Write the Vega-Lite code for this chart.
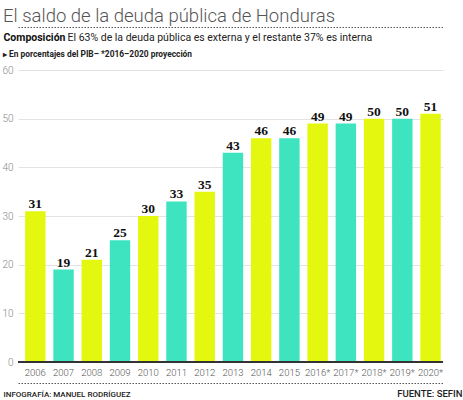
{
  "$schema": "https://vega.github.io/schema/vega-lite/v6.json",
  "width": 425,
  "height": 292,
  "autosize": {"type": "none"},
  "padding": {"left": 18, "top": 70, "right": 20, "bottom": 38},
  "background": "white",
  "config": {"view": {"stroke": null}},
  "title": {
    "text": "El saldo de la deuda pública de Honduras",
    "subtitle": "▸ En porcentajes del PIB– *2016–2020 proyección",
    "anchor": "start",
    "frame": "group",
    "dx": -15,
    "offset": -31,
    "font": "Roboto",
    "fontWeight": 300,
    "fontSize": 18.5,
    "color": "#555",
    "subtitleFont": "Roboto",
    "subtitleFontWeight": "bold",
    "subtitleFontSize": 8.4,
    "subtitleColor": "#222",
    "subtitlePadding": 24
  },
  "data": {
    "values": [
      {"year": "2006", "value": 31},
      {"year": "2007", "value": 19},
      {"year": "2008", "value": 21},
      {"year": "2009", "value": 25},
      {"year": "2010", "value": 30},
      {"year": "2011", "value": 33},
      {"year": "2012", "value": 35},
      {"year": "2013", "value": 43},
      {"year": "2014", "value": 46},
      {"year": "2015", "value": 46},
      {"year": "2016*", "value": 49},
      {"year": "2017*", "value": 49},
      {"year": "2018*", "value": 50},
      {"year": "2019*", "value": 50},
      {"year": "2020*", "value": 51}
    ]
  },
  "resolve": {
    "scale": {"y": "independent"},
    "axis": {"x": "independent", "y": "independent"}
  },
  "layer": [
    {
      "layer": [
        {
          "mark": {"type": "bar"},
          "encoding": {
            "x": {
              "field": "year",
              "type": "ordinal",
              "sort": null,
              "scale": {"paddingInner": 0.277, "paddingOuter": 0.166, "align": 0.76},
              "axis": {
                "orient": "bottom",
                "offset": 21,
                "domain": true,
                "domainColor": "#555",
                "domainWidth": 1,
                "domainDash": [1.5, 1.5],
                "ticks": false,
                "tickSize": 0,
                "grid": false,
                "labelPadding": -16,
                "labelAngle": 0,
                "labelOverlap": false,
                "labelFont": "Roboto",
                "labelFontWeight": 300,
                "labelFontSize": 9.5,
                "labelColor": "#555",
                "title": "INFOGRAFÍA: MANUEL RODRÍGUEZ",
                "titleX": -15,
                "titleY": 13,
                "titleAlign": "left",
                "titleBaseline": "alphabetic",
                "titleFont": "Roboto",
                "titleFontWeight": 500,
                "titleFontSize": 8,
                "titleColor": "#222"
              }
            },
            "y": {
              "field": "value",
              "type": "quantitative",
              "scale": {"domain": [0, 60]},
              "axis": {
                "orient": "left",
                "values": [0, 10, 20, 30, 40, 50, 60],
                "grid": true,
                "gridColor": "#e3e3e3",
                "domain": false,
                "ticks": false,
                "labelPadding": 5,
                "labelFont": "Roboto",
                "labelFontWeight": 300,
                "labelFontSize": 10,
                "labelColor": "#888",
                "title": "Composición",
                "titleAngle": 0,
                "titleX": -15,
                "titleY": -30,
                "titleAlign": "left",
                "titleBaseline": "alphabetic",
                "titleFont": "Roboto",
                "titleFontWeight": "bold",
                "titleFontSize": 10.5,
                "titleColor": "#111"
              }
            },
            "color": {
              "condition": {"test": "toNumber(slice(datum.year, 0, 4)) % 2 == 0", "value": "#e4f70f"},
              "value": "#3ee3c0"
            }
          }
        },
        {
          "mark": {"type": "rule", "color": "#333", "strokeWidth": 2},
          "encoding": {"y": {"datum": 0}}
        }
      ]
    },
    {
      "mark": {
        "type": "text",
        "baseline": "alphabetic",
        "dy": -3,
        "font": "Liberation Serif",
        "fontWeight": "bold",
        "fontSize": 13.5,
        "color": "#111"
      },
      "encoding": {
        "x": {
          "field": "year",
          "type": "ordinal",
          "sort": null,
          "scale": {"paddingInner": 0.277, "paddingOuter": 0.166, "align": 0.76},
          "axis": {
            "orient": "top",
            "offset": 43,
            "domain": true,
            "domainColor": "#555",
            "domainWidth": 1,
            "domainDash": [1.5, 1.5],
            "ticks": false,
            "labels": false,
            "grid": false,
            "title": "El 63% de la deuda pública es externa y el restante 37% es interna",
            "titleX": 49,
            "titleY": 13,
            "titleAlign": "left",
            "titleBaseline": "alphabetic",
            "titleFont": "Roboto",
            "titleFontWeight": "normal",
            "titleFontSize": 10.5,
            "titleColor": "#222"
          }
        },
        "y": {
          "field": "value",
          "type": "quantitative",
          "scale": {"domain": [0, 60]},
          "axis": {
            "orient": "right",
            "domain": false,
            "ticks": false,
            "labels": false,
            "grid": false,
            "title": "FUENTE: SEFIN",
            "titleAngle": 0,
            "titleX": 19,
            "titleY": 326,
            "titleAlign": "right",
            "titleBaseline": "alphabetic",
            "titleFont": "Roboto",
            "titleFontWeight": 500,
            "titleFontSize": 9.5,
            "titleColor": "#222"
          }
        },
        "text": {"field": "value", "type": "quantitative"}
      }
    }
  ]
}
